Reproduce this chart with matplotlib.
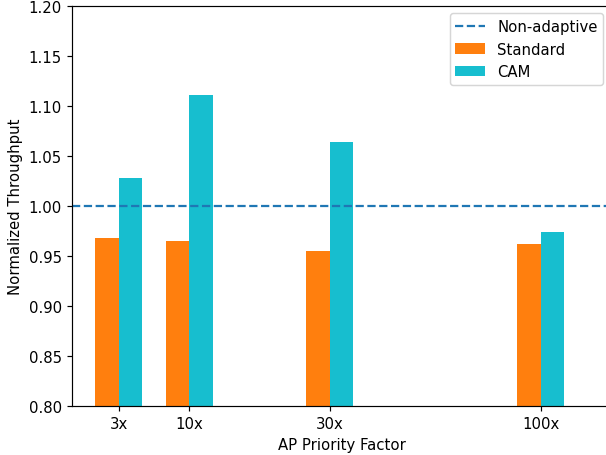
import matplotlib as mpl

mpl.use('Agg')
import matplotlib.pyplot as plt

# data
factors = ['3x', '10x', '30x', '100x']
standard = [0.968, 0.965, 0.955, 0.962]
cam = [1.028, 1.111, 1.064, 0.974]
baseline = 1.0

# bar groups are spaced 1, 2, 3 slots apart
positions = [0, 1, 3, 6]
width = 1.0 / 3

# the reference was rendered slightly larger than 100 dpi
dpi = 107
figure = plt.figure(figsize=(606 / dpi, 456 / dpi), dpi=dpi)
ax = figure.add_axes([0.119, 0.1075, 0.889, 0.877])

ax.axhline(baseline, color='tab:blue', linestyle='--', label='Non-adaptive')
ax.bar([p - width / 2 for p in positions], standard, width,
       color='tab:orange', label='Standard')
ax.bar([p + width / 2 for p in positions], cam, width,
       color='tab:cyan', label='CAM')

# labels
ax.set_xticks(positions)
ax.set_xticklabels(factors)
ax.set_xlabel('AP Priority Factor')
ax.set_ylabel('Normalized Throughput')
ax.legend(loc='upper right')

# axes
ax.set_xlim(-0.664, 7.0)
ax.set_ylim(0.8, 1.2)

figure.savefig('out.png', dpi=dpi)
plt.close(figure)
